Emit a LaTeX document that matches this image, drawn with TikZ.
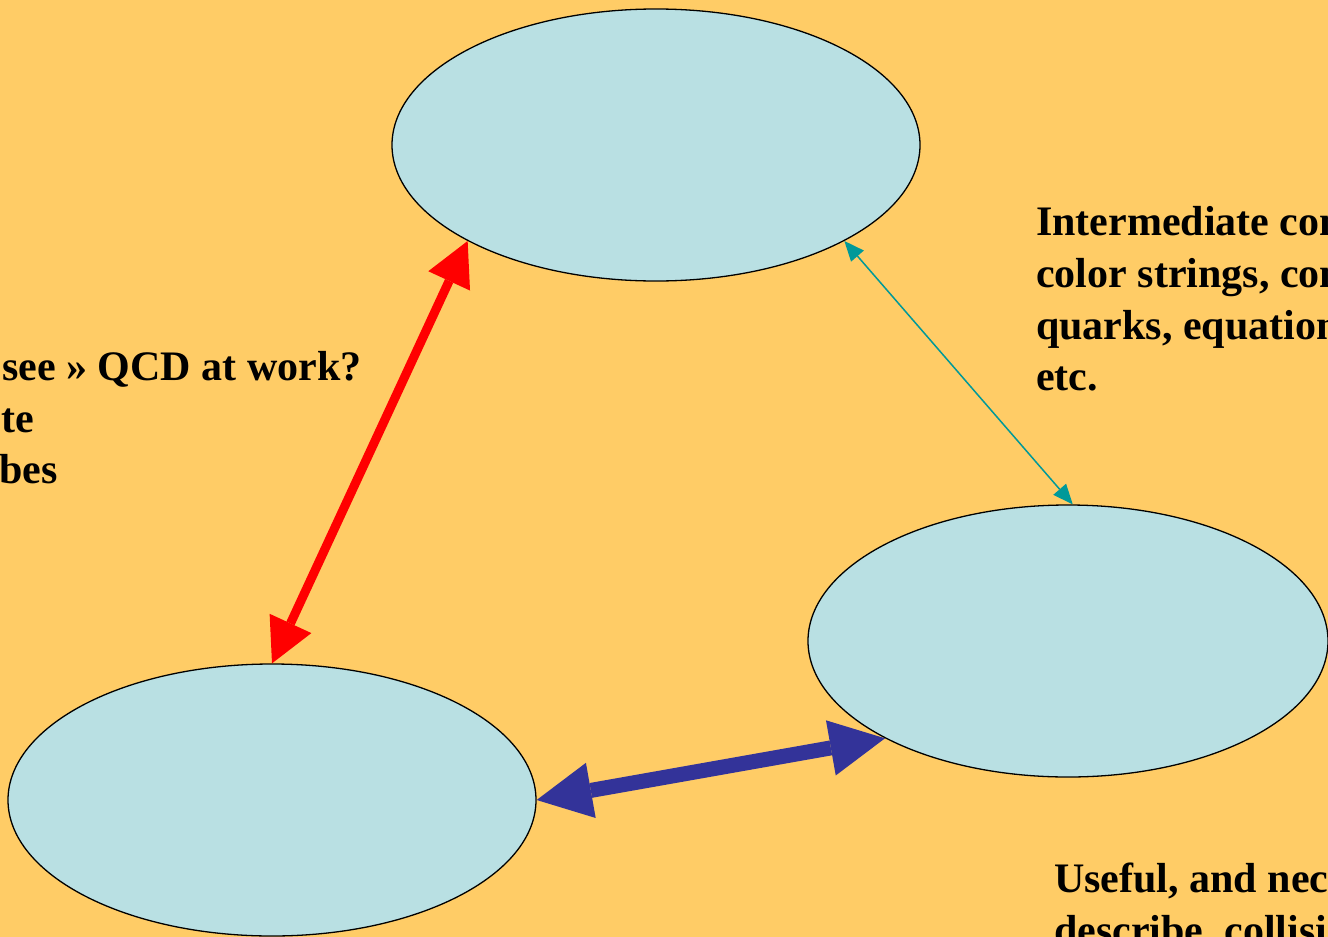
\documentclass[tikz,border=0pt]{standalone}
\usepackage{fontspec}
\setmainfont{Liberation Serif}
\usetikzlibrary{shapes.geometric,arrows.meta}
\definecolor{bgc}{RGB}{255,204,102}
\definecolor{ellc}{RGB}{185,224,227}
\definecolor{tealc}{RGB}{0,153,153}
\definecolor{bluec}{RGB}{51,51,153}
\begin{document}
\begin{tikzpicture}[x=1pt,y=-1pt,
  blob/.style={ellipse,draw=black,line width=1.3pt,fill=ellc,inner sep=0pt},
  txt/.style={anchor=base west,inner sep=0pt,font=\fontsize{42}{52}\selectfont\bfseries},
  redarrow/.style={draw=red,line width=9pt,{Triangle[length=44pt,width=46pt,line width=0pt]}-{Triangle[length=44pt,width=46pt,line width=0pt]}},
  bluearrow/.style={draw=bluec,line width=15pt,{Triangle[length=55pt,width=56pt,line width=0pt]}-{Triangle[length=55pt,width=56pt,line width=0pt]}},
  tealarrow/.style={draw=tealc,line width=1.5pt,{Triangle[length=20pt,width=17pt,line width=0pt]}-{Triangle[length=20pt,width=17pt,line width=0pt]}}]
\useasboundingbox (0,0) rectangle (1328,937);
\clip (0,0) rectangle (1328,937);
\fill[bgc] (0,0) rectangle (1328,937);
\node[blob,minimum width=528pt,minimum height=272pt] (top) at (656,145) {};
\node[blob,minimum width=520pt,minimum height=272pt] (right) at (1068,641) {};
\node[blob,minimum width=528pt,minimum height=272pt] (left) at (272,800) {};
\draw[redarrow] (left.north) -- (top.207.3);
\draw[tealarrow] (top.333.1) -- (right.88.3);
\draw[bluearrow] (left.east) -- (right.208);
\node[txt] (l1) at (2,380) {see » QCD at work?};
\node[txt] (l2) at (1,432) {te};
\node[txt] (l3) at (-1,483) {bes};
\node[txt] (r1) at (1036,235) {Intermediate con};
\node[txt] (r2) at (1036,287) {color strings, con};
\node[txt] (r3) at (1036,339) {quarks, equation};
\node[txt] (r4) at (1036,390) {etc.};
\node[txt] (b1) at (1054,892) {Useful, and nec};
\node[txt] (b2) at (1054,944) {describe, collisi};
\end{tikzpicture}
\end{document}
